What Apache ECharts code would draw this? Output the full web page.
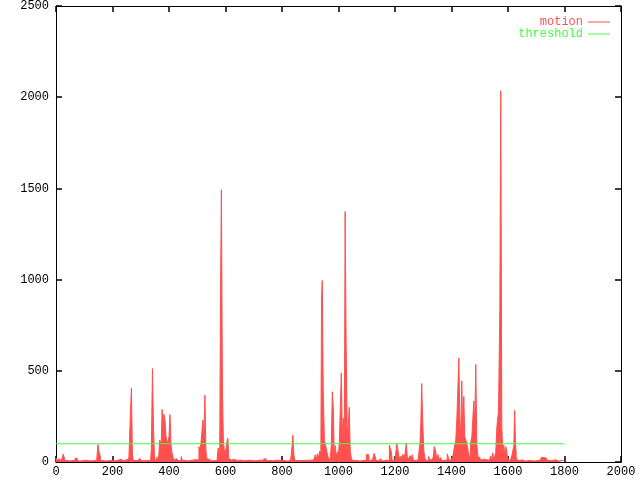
<!DOCTYPE html>
<html>
<head>
<meta charset="utf-8">
<script src="https://cdn.jsdelivr.net/npm/echarts@6/dist/echarts.min.js"></script>
<style>html,body{margin:0;padding:0;background:#fff}#c{width:640px;height:480px}</style>
</head>
<body>
<div id="c"></div>
<script>
// x axis tick values and y axis tick values
var xTicks = [0, 200, 400, 600, 800, 1000, 1200, 1400, 1600, 1800, 2000];
var yTicks = [0, 500, 1000, 1500, 2000, 2500];

// motion series: frame numbers and values
var motionFrames = [
  0,3,6,12,16,22,30,33,45,60,75,78,95,106,120,135,144,147,150,154,157,160,175,190,205,220,230,238,245,250,258,262,
  265,269,272,275,290,302,305,320,335,340,343,347,351,355,359,362,366,368,371,374,377,380,384,387,391,394,398,402,405,409,412,416,419,423,428,440,446,450,470,482,495,
  500,504,508,511,515,518,522,525,529,532,535,540,555,570,578,581,584,587,591,594,597,600,603,607,610,613,618,625,635,650,665,680,700,720,743,746,760,780,
  800,815,830,834,837,840,844,847,860,880,900,915,920,924,927,931,936,939,941,944,948,952,955,958,962,966,970,973,976,980,983,987,990,994,998,
  1001,1005,1008,1012,1015,1019,1022,1025,1029,1033,1036,1040,1043,1047,1050,1060,1075,1090,1107,1110,1120,1132,1135,1150,1153,1165,1175,1185,1188,1192,
  1200,1213,1216,1220,1225,1230,1234,1238,1242,1245,1250,1256,1260,1263,1267,1275,1283,1287,1290,1293,1296,1300,1304,1308,1315,1323,1326,1335,1343,1346,1350,1355,1358,1364,1368,1380,1390,1393,
  1400,1403,1406,1410,1413,1417,1421,1424,1428,1431,1435,1438,1442,1445,1449,1452,1456,1459,1463,1467,1470,1474,1477,1481,1484,1488,1491,1495,1498,
  1501,1505,1515,1525,1535,1541,1544,1548,1551,1555,1558,1564,1569,1573,1576,1580,1583,1587,1590,1594,1597,
  1601,1604,1612,1615,1619,1622,1625,1628,1631,1640,1645,1656,1660,1675,1690,1705,1715,1720,1726,1730,1735,1740,1755,1769,1772,1785,1799
];
var motionValues = [
  8,20,6,17,8,10,44,8,6,8,20,6,7,10,6,8,10,40,95,56,40,8,6,8,7,10,15,8,18,10,20,12,
  275,406,40,8,7,20,7,8,10,71,512,202,10,15,27,10,40,120,115,100,288,213,262,235,150,100,117,138,260,100,50,55,10,18,8,7,30,8,6,10,12,
  6,12,84,70,102,110,230,120,367,70,20,10,7,8,77,40,952,1493,416,111,66,50,70,110,130,20,10,15,8,10,7,9,7,10,20,8,7,10,
  8,6,10,30,84,148,40,8,7,9,10,20,40,15,45,20,60,48,900,995,390,120,120,75,48,20,15,30,90,385,295,40,90,30,55,
  35,110,300,488,140,240,80,1373,645,150,200,300,60,25,10,8,6,9,40,8,10,48,8,18,7,10,8,92,60,10,
  8,100,25,30,10,42,20,50,105,30,15,35,20,40,10,8,15,60,100,220,430,230,60,20,8,30,10,20,85,55,10,40,10,25,8,12,45,10,
  12,20,30,60,93,115,235,235,571,235,133,445,138,360,138,120,105,95,40,10,110,138,145,335,202,535,100,40,15,
  27,10,15,12,10,33,10,50,12,15,50,200,280,826,2035,196,55,93,38,85,60,
  15,8,15,35,45,85,284,125,15,8,12,20,6,8,6,8,10,25,25,20,20,8,7,12,6,8,6
];

// threshold series
var thresholdValue = 100;
var thresholdFrames = [0, 1800];

var motionData = motionFrames.map(function (f, i) { return [f, motionValues[i]]; });
var thresholdData = thresholdFrames.map(function (f) { return [f, thresholdValue]; });

var RED = '#ff5050', GREEN = '#40ff40';
var FONT = 'Liberation Mono';

var chart = echarts.init(document.getElementById('c'), null, { renderer: 'canvas' });

function plain(v) { return String(v); }

function makeAxis(pos, ticks, labelOpt) {
  return {
    type: 'value',
    position: pos,
    min: ticks[0],
    max: ticks[ticks.length - 1],
    interval: ticks[1] - ticks[0],
    axisLine: { show: true, onZero: false, lineStyle: { color: '#000', width: 1 } },
    axisTick: { show: true, inside: true, length: 6, lineStyle: { color: '#000', width: 1.5 } },
    splitLine: { show: false },
    axisLabel: labelOpt || { show: false }
  };
}

var labelStyle = function (margin) {
  return { show: true, color: '#000', fontFamily: FONT, fontSize: 12, margin: margin, formatter: plain };
};

chart.setOption({
  animation: false,
  backgroundColor: '#fff',
  grid: { left: 56, right: 19, top: 5, bottom: 18 },
  legend: {
    orient: 'vertical',
    right: 30,
    top: 16,
    padding: 0,
    itemGap: 0,
    align: 'right',
    itemWidth: 22,
    itemHeight: 1,
    icon: 'rect',
    textStyle: { fontFamily: FONT, fontSize: 12, lineHeight: 11 },
    data: [
      { name: 'motion', textStyle: { color: RED } },
      { name: 'threshold', textStyle: { color: GREEN } }
    ]
  },
  xAxis: [
    makeAxis('bottom', xTicks, labelStyle(4)),
    makeAxis('top', xTicks)
  ],
  yAxis: [
    makeAxis('left', yTicks, labelStyle(7)),
    makeAxis('right', yTicks)
  ],
  series: [
    {
      name: 'motion', type: 'line', xAxisIndex: 0, yAxisIndex: 0,
      data: motionData, symbol: 'none', showSymbol: false, step: 'middle',
      lineStyle: { color: RED, width: 1 },
      itemStyle: { color: RED },
      areaStyle: { color: RED, opacity: 1 }
    },
    {
      // same scale as the primary axes; attached to the mirrored axes so they render their ticks
      name: 'threshold', type: 'line', xAxisIndex: 1, yAxisIndex: 1,
      data: thresholdData, symbol: 'none', showSymbol: false,
      lineStyle: { color: GREEN, width: 1 },
      itemStyle: { color: GREEN }
    }
  ]
});
</script>
</body>
</html>
